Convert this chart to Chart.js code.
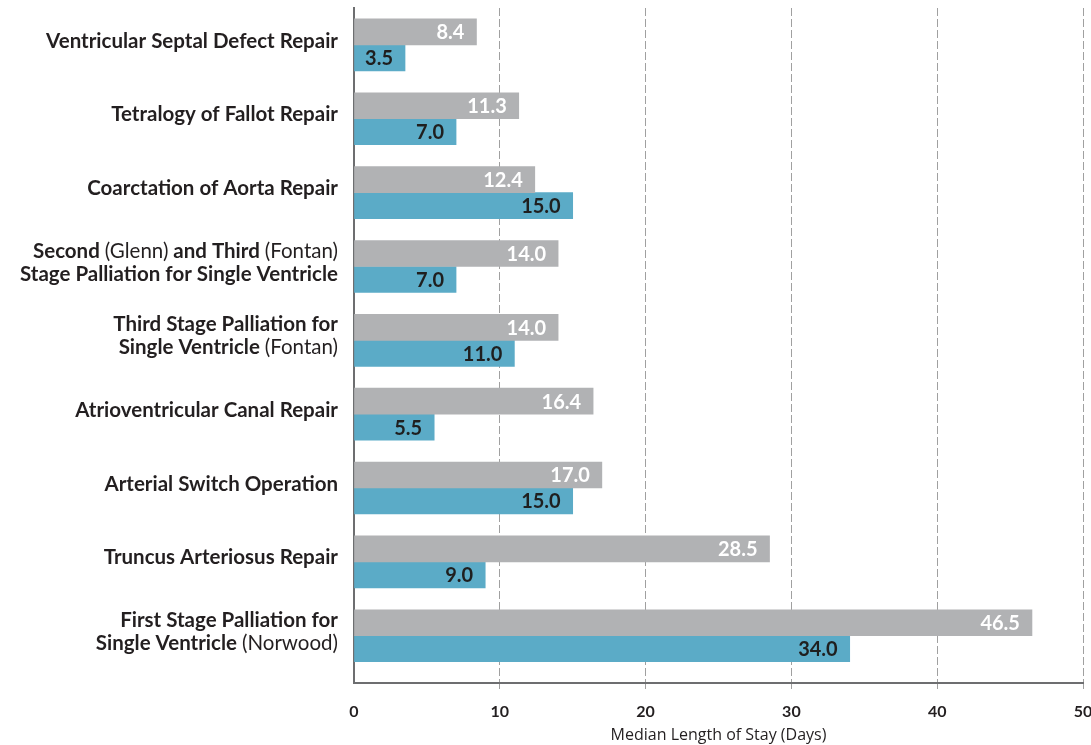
<!DOCTYPE html>
<html>
<head>
<meta charset="utf-8">
<script src="https://cdn.jsdelivr.net/npm/chart.js@4"></script>
<style>
	body { margin: 0; background: #fff; }
	#wrap { width: 1091px; height: 745px; }
</style>
</head>
<body>
<div id="wrap"><canvas id="myCanvas"></canvas></div>
<script>
const categories = [
	["Ventricular Septal Defect Repair"],
	["Tetralogy of Fallot Repair"],
	["Coarctation of Aorta Repair"],
	["Second (Glenn) and Third (Fontan)", "Stage Palliation for Single Ventricle"],
	["Third Stage Palliation for", "Single Ventricle (Fontan)"],
	["Atrioventricular Canal Repair"],
	["Arterial Switch Operation"],
	["Truncus Arteriosus Repair"],
	["First Stage Palliation for", "Single Ventricle (Norwood)"],
];
const grayValues = [8.4, 11.3, 12.4, 14.0, 14.0, 16.4, 17.0, 28.5, 46.5];
const blueValues = [3.5, 7.0, 15.0, 7.0, 11.0, 5.5, 15.0, 9.0, 34.0];
const xTicks = [0, 10, 20, 30, 40, 50];

const FONT = "Lato, 'Open Sans', sans-serif";
const TEXT = "#231f20";
const valueColors = ["#ffffff", "#1f1f1f"];

// category labels, with the bits in brackets in regular weight
const yLabels = {
	id: "yLabels",
	afterDraw(chart) {
		const ctx = chart.ctx;
		const y = chart.scales.y;
		ctx.save();
		ctx.textBaseline = "middle";
		ctx.textAlign = "left";
		ctx.fillStyle = TEXT;
		chart.data.labels.forEach((lines, i) => {
			const cy = y.getPixelForValue(i) - 4;
			lines.forEach((line, j) => {
				const ly = cy + (j - (lines.length - 1) / 2) * 23;
				const parts = line.split(/(\([^)]*\))/).filter((s) => s);
				let x = y.right - 16;
				for (let k = parts.length - 1; k >= 0; k--) {
					const p = parts[k];
					ctx.font = (p.startsWith("(") ? "400 " : "700 ") + "20.5px " + FONT;
					x -= ctx.measureText(p).width;
					ctx.fillText(p, x, ly);
				}
			});
		});
		ctx.restore();
	},
};

// value labels at the end of each bar
const barValues = {
	id: "barValues",
	afterDatasetsDraw(chart) {
		const ctx = chart.ctx;
		ctx.save();
		ctx.font = "700 20px " + FONT;
		ctx.textAlign = "right";
		ctx.textBaseline = "middle";
		chart.data.datasets.forEach((ds, di) => {
			ctx.fillStyle = valueColors[di];
			chart.getDatasetMeta(di).data.forEach((bar, i) => {
				ctx.fillText(ds.data[i].toFixed(1), bar.x - 12, bar.y + 1);
			});
		});
		ctx.restore();
	},
};

const ctx = document.getElementById("myCanvas").getContext("2d");
const myChart = new Chart(ctx, {
	type: "bar",
	data: {
		labels: categories,
		datasets: [
			{
				label: "Comparison",
				data: grayValues,
				backgroundColor: "#b1b2b4",
				barThickness: 26,
			},
			{
				label: "Center",
				data: blueValues,
				backgroundColor: "#5babc7",
				barThickness: 26,
			},
		],
	},
	options: {
		indexAxis: "y",
		responsive: true,
		maintainAspectRatio: false,
		animation: false,
		layout: { padding: { top: 8, right: 8, left: 0, bottom: 0 } },
		plugins: {
			legend: { display: false },
			tooltip: { enabled: true },
		},
		scales: {
			y: {
				type: "category",
				grid: { display: false },
				border: { color: "#6d6e70", width: 2 },
				ticks: { display: false },
				afterFit: (scale) => {
					scale.width = 354;
				},
				// a little empty room under the last row, like the original
				afterBuildTicks: (scale) => {
					scale._valueRange += 0.14;
				},
			},
			x: {
				min: 0,
				max: 50,
				afterBuildTicks: (scale) => {
					scale.ticks = xTicks.map((v) => ({ value: v }));
				},
				afterFit: (scale) => {
					scale.paddingRight = 0;
					scale.height = 62;
				},
				grid: {
					color: (c) => (c.tick && c.tick.value === 0 ? "rgba(0,0,0,0)" : "#a0a0a0"),
					lineWidth: 1,
					tickLength: 6,
				},
				border: { color: "#6d6e70", width: 2, dash: [8, 3] },
				ticks: {
					color: TEXT,
					font: { family: FONT, size: 16, weight: "bold" },
					padding: 13,
				},
				title: {
					display: true,
					text: "Median Length of Stay (Days)",
					color: TEXT,
					font: { family: "'Open Sans', sans-serif", size: 16 },
					padding: { top: 4, bottom: 0 },
				},
			},
		},
	},
	plugins: [yLabels, barValues],
});
</script>
</body>
</html>
